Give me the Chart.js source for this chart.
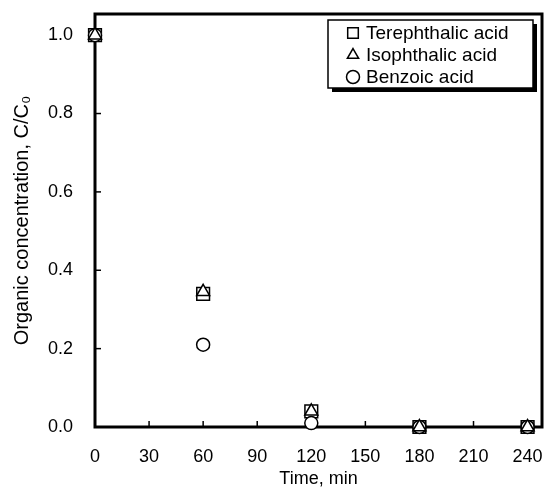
<!DOCTYPE html>
<html>
<head>
<meta charset="utf-8">
<script src="https://cdn.jsdelivr.net/npm/chart.js@4"></script>
<style>
  html, body { margin: 0; padding: 0; background: #fff; }
  #wrap { width: 545px; height: 495px; }
</style>
</head>
<body>
<div id="wrap"><canvas id="graph_conc" width="545" height="495"></canvas></div>
<script>
var time_min = [0, 60, 120, 180, 240];
var terephthalic = [1.0, 0.34, 0.04, 0.0, 0.0];
var isophthalic = [1.0, 0.345, 0.04, 0.0, 0.0];
var benzoic = [1.0, 0.21, 0.01, 0.0, 0.0];
var series_names = ["Terephthalic acid", "Isophthalic acid", "Benzoic acid"];
var series_marks = ["rect", "triangle", "circle"];

var FONT = "'Liberation Sans', Arial, 'DejaVu Sans', sans-serif";

function toPoints(ys) {
    return time_min.map(function (t, i) { return { x: t, y: ys[i] }; });
}

// frame + inward tick marks
var framePlugin = {
    id: 'frame',
    beforeDatasetsDraw: function (chart) {
        var c = chart.ctx, a = chart.chartArea;
        var xs = chart.scales.x, ys = chart.scales.y;
        c.save();
        c.strokeStyle = '#000';
        c.lineWidth = 1.5;
        xs.ticks.forEach(function (t) {
            var px = xs.getPixelForValue(t.value);
            c.beginPath(); c.moveTo(px, a.bottom); c.lineTo(px, a.bottom - 6); c.stroke();
        });
        ys.ticks.forEach(function (t) {
            var py = ys.getPixelForValue(t.value);
            c.beginPath(); c.moveTo(a.left, py); c.lineTo(a.left + 6, py); c.stroke();
        });
        c.lineWidth = 3;
        c.strokeRect(a.left, a.top, a.right - a.left, a.bottom - a.top);
        c.restore();
    }
};

// boxed legend with drop shadow
var legendPlugin = {
    id: 'boxLegend',
    afterDraw: function (chart) {
        var c = chart.ctx;
        var bx = 328, by = 20, bw = 205, bh = 68;
        c.save();
        c.fillStyle = '#000';
        c.fillRect(bx + 4, by + 4, bw, bh);
        c.fillStyle = '#fff';
        c.fillRect(bx, by, bw, bh);
        c.strokeStyle = '#000';
        c.lineWidth = 1.5;
        c.strokeRect(bx, by, bw, bh);
        c.font = '19px ' + FONT;
        c.textBaseline = 'middle';
        series_names.forEach(function (name, i) {
            var cy = by + 13 + i * 22;
            c.fillStyle = '#fff';
            c.strokeStyle = '#000';
            c.lineWidth = 1.5;
            Chart.helpers.drawPoint(c, {
                pointStyle: series_marks[i], radius: i === 0 ? 7.5 : 6.5,
                borderWidth: 1.5
            }, 353, cy);
            c.fillStyle = '#000';
            c.fillText(name, 366, cy + 1);
        });
        c.restore();
    }
};

function makeSet(label, ys, style, r) {
    return {
        label: label,
        data: toPoints(ys),
        pointStyle: style,
        pointRadius: r,
        pointHoverRadius: r,
        pointBorderWidth: 1.5,
        borderColor: '#000',
        pointBorderColor: '#000',
        pointBackgroundColor: '#fff',
        showLine: false,
        clip: false
    };
}

// keep tick labels from pushing the plot area inward
function noPad(s) {
    s.paddingTop = 0; s.paddingBottom = 0;
    s.paddingLeft = 0; s.paddingRight = 0;
}

var ctx = document.getElementById("graph_conc");

var myChart_conc = new Chart(ctx, {
    type: 'scatter',
    data: {
        // first dataset is drawn on top
        datasets: [
            makeSet(series_names[1], isophthalic, 'triangle', 7.5),
            makeSet(series_names[2], benzoic, 'circle', 6.5),
            makeSet(series_names[0], terephthalic, 'rect', 9)
        ]
    },
    options: {
        responsive: false,
        animation: false,
        layout: {
            autoPadding: false,
            padding: { left: 0, right: 3, top: 14, bottom: 0 }
        },
        plugins: {
            legend: { display: false },
            tooltip: { enabled: false }
        },
        scales: {
            x: {
                type: 'linear',
                min: 0,
                max: 248,
                grid: { display: false, drawTicks: false },
                border: { display: false },
                afterFit: function (s) { s.height = 68; noPad(s); },
                ticks: {
                    stepSize: 30,
                    includeBounds: false,
                    maxRotation: 0,
                    padding: 19,
                    color: '#000',
                    font: { family: FONT, size: 18 }
                },
                title: {
                    display: true,
                    text: 'Time, min',
                    color: '#000',
                    padding: { top: 0, bottom: 5 },
                    font: { family: FONT, size: 18 }
                }
            },
            y: {
                min: 0,
                max: 1.054,
                grid: { display: false, drawTicks: false },
                border: { display: false },
                afterFit: function (s) { s.width = 95; noPad(s); },
                ticks: {
                    stepSize: 0.2,
                    includeBounds: false,
                    padding: 22,
                    color: '#000',
                    font: { family: FONT, size: 18 },
                    callback: function (v) { return v.toFixed(1); }
                },
                title: {
                    display: true,
                    text: 'Organic concentration, C/C\u2080',
                    color: '#000',
                    padding: { top: 10, bottom: 0 },
                    font: { family: FONT, size: 20 }
                }
            }
        }
    },
    plugins: [framePlugin, legendPlugin]
});
</script>
</body>
</html>
